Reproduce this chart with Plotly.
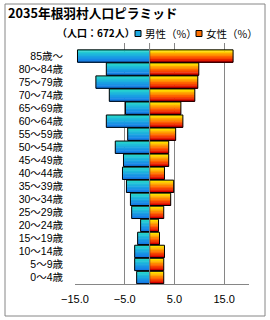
import plotly.graph_objects as go

# ---- data ----
age_groups = ["0～4歳", "5～9歳", "10～14歳", "15～19歳", "20～24歳", "25～29歳",
              "30～34歳", "35～39歳", "40～44歳", "45～49歳", "50～54歳", "55～59歳",
              "60～64歳", "65～69歳", "70～74歳", "75～79歳", "80～84歳", "85歳～"]
male_pct = [2.6, 3.0, 3.0, 2.4, 1.8, 3.6, 3.85, 4.65, 5.45, 5.25, 6.9, 4.4,
            8.7, 4.85, 8.1, 10.8, 8.7, 14.5]
female_pct = [2.85, 2.85, 3.0, 2.0, 1.8, 2.85, 4.25, 4.85, 3.0, 3.85, 3.85, 5.25,
              6.7, 6.3, 9.1, 9.7, 9.9, 16.8]
x_ticks = [-15, -5, 5, 15]
title_text = "2035年根羽村人口ピラミッド"
subtitle_text = "（人口：672人）"
male_name = "男性（%）"
female_name = "女性（%）"

# ---- style ----
FONT = "Noto Sans CJK JP"
TICKFONT = "Liberation Sans, Noto Sans CJK JP"
GRID = "#868686"
female_bands = ["#FFE600", "#FFCC00", "#FFAA00", "#FF8800",
                "#FF6600", "#F84400", "#E82400", "#D00000"]
male_bands = ["#28D6CA", "#23CAD3", "#1FBDD9", "#1CAFDE",
              "#1AA1E2", "#1893E5", "#1786E6", "#157AE4"]
W = 0.95
N = len(female_bands)
w = W / N

male_x = [-v for v in male_pct]
fig = go.Figure()

for xs, bands in ((male_x, male_bands), (female_pct, female_bands)):
    for i, col in enumerate(bands):
        top = W / 2 - i * w
        bw = w * 1.3 if i < N - 1 else w
        fig.add_trace(go.Bar(
            x=xs, y=age_groups, orientation="h",
            width=bw, offset=top - bw,
            marker=dict(color=col, line=dict(width=0)),
            showlegend=False, hoverinfo="skip"))

for xs, name in ((male_x, male_name), (female_pct, female_name)):
    fig.add_trace(go.Bar(
        x=xs, y=age_groups, orientation="h", name=name, width=W,
        marker=dict(color="rgba(0,0,0,0)", line=dict(color="black", width=1)),
        showlegend=False))

# px -> paper helpers (plot area x 75..249, y 43..284)
def px(v):
    return (v - 75) / 174

def py(v):
    return (284 - v) / 241

shapes = [
    # zero axis line drawn above bars
    dict(type="line", xref="x", yref="paper", x0=0, x1=0, y0=0, y1=1,
         line=dict(color=GRID, width=1), layer="above"),
    # chart border
    dict(type="rect", xref="paper", yref="paper",
         x0=px(5), x1=px(265), y0=py(316), y1=py(4),
         line=dict(color=GRID, width=1), fillcolor="rgba(0,0,0,0)", layer="below"),
    # legend keys
    dict(type="rect", xref="paper", yref="paper",
         x0=px(135), x1=px(141), y0=py(36.5), y1=py(30.5),
         line=dict(color="black", width=1), fillcolor="#1CA8E0"),
    dict(type="rect", xref="paper", yref="paper",
         x0=px(196), x1=px(202), y0=py(36.5), y1=py(30.5),
         line=dict(color="black", width=1), fillcolor="#FF7000"),
]

annotations = [
    dict(text="<b>" + subtitle_text + "</b>", xref="paper", yref="paper",
         x=px(55), y=py(33), xanchor="left", yanchor="middle", showarrow=False,
         font=dict(family=FONT, size=10, color="black")),
    dict(text=male_name, xref="paper", yref="paper",
         x=px(143), y=py(33.5), xanchor="left", yanchor="middle", showarrow=False,
         font=dict(family=FONT, size=10.5, color="black")),
    dict(text=female_name, xref="paper", yref="paper",
         x=px(204), y=py(33.5), xanchor="left", yanchor="middle", showarrow=False,
         font=dict(family=FONT, size=10.5, color="black")),
]

fig.update_layout(
    width=270, height=320,
    margin=dict(l=75, r=21, t=43, b=36, pad=0),
    paper_bgcolor="white", plot_bgcolor="white",
    barmode="overlay",
    title=dict(text="<b>" + title_text + "</b>", xref="container", yref="container",
               x=8 / 270, xanchor="left", y=1 - 14 / 320, yanchor="middle",
               font=dict(family=FONT, size=12.7, color="black")),
    shapes=shapes, annotations=annotations,
    font=dict(family=FONT, color="black"),
)

fig.update_xaxes(
    range=[-15, 20], tickvals=x_ticks, tickformat=".1f",
    showgrid=True, gridcolor=GRID, gridwidth=1,
    zeroline=False, showline=True, linecolor=GRID, linewidth=1,
    ticks="", ticklabelstandoff=5,
    tickfont=dict(family=TICKFONT, size=11, color="black"),
    fixedrange=True)

fig.update_yaxes(
    type="category", categoryorder="array", categoryarray=age_groups,
    range=[-0.5, 18.0], showgrid=False, zeroline=False, showline=False,
    ticks="", ticklabelstandoff=11,
    tickfont=dict(family=TICKFONT, size=10.5, color="black"),
    fixedrange=True)

fig.write_html("out.html")
